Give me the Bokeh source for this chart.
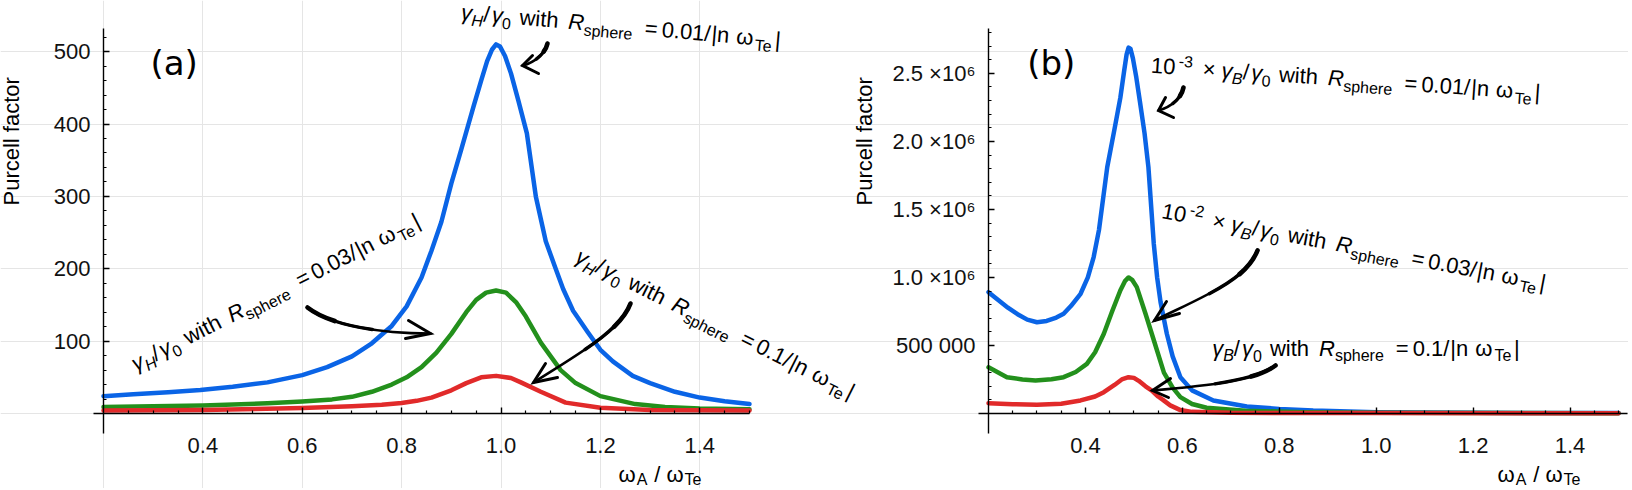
import math
from bokeh.plotting import figure
from bokeh.models import Range1d, FixedTicker, Label, LinearAxis
from bokeh.embed import file_html
from bokeh.resources import INLINE

# ---------------- data ----------------
# panel (a): gamma_H / gamma_0 (Purcell factor)
a_x_blue = [0.20, 0.26, 0.33, 0.395, 0.46, 0.53, 0.60, 0.65, 0.70, 0.74, 0.78, 0.81, 0.84, 0.86, 0.88,
            0.90, 0.92, 0.945, 0.96, 0.972, 0.982, 0.99, 0.998, 1.008, 1.02, 1.035, 1.052, 1.07, 1.09,
            1.11, 1.125, 1.145, 1.175, 1.20, 1.225, 1.265, 1.30, 1.35, 1.40, 1.45, 1.50]
a_y_blue = [24, 26.5, 29.5, 32.5, 37, 43, 53, 64, 79, 97, 121, 148, 188, 225, 265,
            318, 365, 425, 460, 487, 503, 510, 507, 494, 470, 432, 387, 300, 238,
            200, 172, 142, 112, 88, 72, 52, 42, 30, 22, 17, 13]
a_x_green = [0.20, 0.30, 0.40, 0.53, 0.60, 0.66, 0.70, 0.74, 0.78, 0.81, 0.84, 0.87, 0.90, 0.93, 0.95,
             0.97, 0.99, 1.01, 1.03, 1.05, 1.08, 1.12, 1.15, 1.20, 1.27, 1.33, 1.40, 1.50]
a_y_green = [9, 10, 11, 14, 16.5, 19.5, 23, 30, 40, 50, 64, 84, 110, 140, 157,
             167, 170, 167, 154, 134, 98, 60, 42, 24, 13, 9, 7, 6]
a_x_red = [0.20, 0.40, 0.60, 0.70, 0.76, 0.80, 0.83, 0.86, 0.90, 0.93, 0.96, 0.99, 1.02, 1.04, 1.08,
           1.13, 1.20, 1.30, 1.50]
a_y_red = [4, 5, 7.5, 10, 12, 14.5, 17.5, 22, 32, 42, 50, 52, 49, 43, 30,
           15, 8, 5, 4]

# panel (b): gamma_B / gamma_0 (scaled)
b_x_blue = [0.20, 0.22, 0.24, 0.26, 0.28, 0.30, 0.32, 0.34, 0.355, 0.37, 0.39, 0.405, 0.417, 0.428,
            0.445, 0.46, 0.472, 0.48, 0.485, 0.489, 0.493, 0.498, 0.505, 0.513, 0.522, 0.53, 0.541,
            0.548, 0.555, 0.568, 0.58, 0.596, 0.62, 0.664, 0.733, 0.80, 0.87, 1.00, 1.20, 1.50]
b_y_blue = [892e3, 835e3, 778e3, 730e3, 690e3, 671e3, 680e3, 705e3, 733e3, 790e3, 880e3, 1.0e6, 1.15e6, 1.35e6,
            1.81e6, 2.09e6, 2.32e6, 2.52e6, 2.64e6, 2.69e6, 2.68e6, 2.61e6, 2.47e6, 2.28e6, 2.06e6, 1.81e6, 1.25e6,
            1.0e6, 820e3, 586e3, 420e3, 267e3, 170e3, 96e3, 51e3, 34e3, 22e3, 10e3, 5e3, 3e3]
b_x_green = [0.20, 0.238, 0.27, 0.297, 0.33, 0.355, 0.38, 0.403, 0.42, 0.438, 0.455, 0.472, 0.482, 0.489,
             0.497, 0.506, 0.524, 0.541, 0.562, 0.58, 0.596, 0.62, 0.65, 0.73, 0.85, 1.00, 1.50]
b_y_green = [340e3, 267e3, 250e3, 243e3, 252e3, 267e3, 305e3, 365e3, 450e3, 586e3, 750e3, 904e3, 975e3, 1.0e6,
             980e3, 929e3, 733e3, 540e3, 300e3, 190e3, 120e3, 70e3, 42e3, 20e3, 10e3, 5e3, 2e3]
b_x_red = [0.20, 0.25, 0.30, 0.35, 0.39, 0.42, 0.438, 0.46, 0.475, 0.489, 0.50, 0.51, 0.524, 0.537, 0.55,
           0.56, 0.575, 0.596, 0.62, 0.70, 1.00, 1.50]
b_y_red = [76e3, 68e3, 64e3, 72e3, 96e3, 125e3, 157e3, 210e3, 250e3, 267e3, 262e3, 240e3, 200e3, 169e3, 125e3,
           100e3, 60e3, 25e3, 12e3, 5e3, 3e3, 2e3]

# ticks and tick labels
x_major = [0.4, 0.6, 0.8, 1.0, 1.2, 1.4]
x_labels = ["0.4", "0.6", "0.8", "1.0", "1.2", "1.4"]
x_minor = [0.25, 0.3, 0.35, 0.45, 0.5, 0.55, 0.65, 0.7, 0.75, 0.85, 0.9, 0.95, 1.05, 1.1, 1.15,
           1.25, 1.3, 1.35, 1.45, 1.5]
a_y_major = [100, 200, 300, 400, 500]
a_y_labels = ["100", "200", "300", "400", "500"]
a_y_minor = [20, 40, 60, 80, 120, 140, 160, 180, 220, 240, 260, 280, 320, 340, 360, 380,
             420, 440, 460, 480, 520]
b_y_major = [500000, 1000000, 1500000, 2000000, 2500000]
b_y_labels = ["500 000", "1.0 ×10⁶", "1.5 ×10⁶", "2.0 ×10⁶", "2.5 ×10⁶"]
b_y_minor = [100000, 200000, 300000, 400000, 600000, 700000, 800000, 900000, 1100000, 1200000, 1300000,
             1400000, 1600000, 1700000, 1800000, 1900000, 2100000, 2200000, 2300000, 2400000, 2600000,
             2700000, 2800000]

BLUE, GREEN, RED = "#0a64e6", "#23901c", "#e12a2a"
FONT = "Liberation Sans"
MAIN, SUB = 22, 16
W, H = 1628, 488
# empirical correction (fraction of font size) so that the anchor lands on the alphabetic baseline
BASE_FIX = {"Liberation Sans": 0.39, "DejaVu Sans": 0.38}

# ---------------- helpers ----------------
WID = {' ': 0.278, '(': 0.333, ')': 0.333, '-': 0.333, '.': 0.278, '/': 0.278, '=': 0.584, '|': 0.26,
       '×': 0.584, 'A': 0.667, 'B': 0.667, 'H': 0.722, 'R': 0.722, 'T': 0.611, 'a': 0.556, 'e': 0.556,
       'h': 0.556, 'i': 0.222, 'n': 0.556, 'p': 0.556, 'r': 0.333, 's': 0.5, 't': 0.278, 'w': 0.722,
       'γ': 0.5, 'ω': 0.78}


def tw(s, size):
    return size * sum(WID.get(c, 0.556) for c in s)


def sub_bezier(P, t):
    (p0, p1, p2, p3) = P

    def lerp(u, v, s):
        return (u[0] + (v[0] - u[0]) * s, u[1] + (v[1] - u[1]) * s)
    a1 = lerp(p0, p1, t)
    b1 = lerp(p1, p2, t)
    c1 = lerp(p2, p3, t)
    a2 = lerp(a1, b1, t)
    b2 = lerp(b1, c1, t)
    a3 = lerp(a2, b2, t)
    return (p0, a1, a2, a3)


def style_axis(ax, labels_standoff):
    ax.axis_line_color = "black"
    ax.axis_line_width = 1.4
    ax.major_tick_in = 6
    ax.major_tick_out = 0
    ax.minor_tick_in = 3
    ax.minor_tick_out = 0
    ax.major_tick_line_width = 1.4
    ax.minor_tick_line_width = 1.2
    ax.major_tick_line_color = "black"
    ax.minor_tick_line_color = "black"
    ax.major_label_text_font = FONT
    ax.major_label_text_font_size = "22px"
    ax.major_label_text_color = "#111111"
    ax.major_label_standoff = labels_standoff


class Panel:
    def __init__(self, p, tod, kw):
        self.p, self.tod, self.kw = p, tod, kw

    def put(self, X, Y, d, up, a, text, size, font=FONT, italic=False):
        ca, sa = math.cos(a), math.sin(a)
        up = up + BASE_FIX[font] * size
        self.p.add_layout(Label(x=X, y=Y, x_offset=d * ca - up * sa, y_offset=d * sa + up * ca,
                                text=text, angle=a, text_font=font, text_font_size=f"{size}px",
                                text_font_style="italic" if italic else "normal", text_color="black",
                                text_align="left", text_baseline="alphabetic", **self.kw))

    def text_at(self, sx, sy, deg, text, size, font=FONT):
        X, Y = self.tod(sx, sy)
        self.put(X, Y, 0, 0, math.radians(deg), text, size, font)

    def rich(self, sx, sy, deg, segs, sub_shift=5):
        X, Y = self.tod(sx, sy)
        a = math.radians(deg)
        d = 0.0
        for text, kind, ital, gap in segs:
            d += gap
            size = MAIN if kind == "n" else SUB
            up = {"n": 0, "sub": -sub_shift, "sup": 9}[kind]
            self.put(X, Y, d, up, a, text, size, FONT, ital)
            d += tw(text, size)

    def arrow(self, pts, head):
        for t, lw in ((1.0, 2.6), (0.6, 3.4), (0.3, 4.6)):
            q = sub_bezier(pts, t)
            (x0, y0), (c0x, c0y), (c1x, c1y), (x1, y1) = [self.tod(*v) for v in q]
            self.p.bezier(x0=[x0], y0=[y0], x1=[x1], y1=[y1], cx0=[c0x], cy0=[c0y], cx1=[c1x], cy1=[c1y],
                          line_color="black", line_width=lw, line_cap="round", **self.kw)
        w1, tip, w2 = [self.tod(*q) for q in head]
        self.p.line([w1[0], tip[0], w2[0]], [w1[1], tip[1], w2[1]], line_color="black", line_width=3,
                    line_join="miter", line_cap="round", **self.kw)

    def curves(self, series):
        for xs, ys, c in series:
            self.p.line(xs, ys, line_color=c, line_width=4.5, line_join="round", line_cap="round", **self.kw)

    def axes(self, x_start_px, x_end_px, y_top, y_major, y_minor, y_labels):
        xax = LinearAxis(fixed_location=0, ticker=FixedTicker(ticks=x_major, minor_ticks=x_minor),
                         bounds=(self.tod(x_start_px, 0)[0], self.tod(x_end_px, 0)[0]), **self.kw)
        xax.major_label_overrides = {v: s for v, s in zip(x_major, x_labels)}
        style_axis(xax, 24)
        yax = LinearAxis(fixed_location=0.2, ticker=FixedTicker(ticks=y_major, minor_ticks=y_minor),
                         bounds=(self.tod(0, 433)[1], y_top), **self.kw)
        yax.major_label_overrides = {v: s for v, s in zip(y_major, y_labels)}
        style_axis(yax, 13)
        self.p.add_layout(xax, "below")
        self.p.add_layout(yax, "left")


def gamma_segs(letter, val, power=None):
    segs = []
    g0 = 0
    if power:
        segs += [("10", "n", False, 0), (power, "sup", False, 3), ("×", "n", False, 10)]
        g0 = 6
    segs += [("γ", "n", True, g0), (letter, "sub", True, 0), ("/", "n", False, 0), ("γ", "n", True, 2),
             ("0", "sub", False, 0), ("with", "n", False, 8), ("R", "n", True, 10),
             ("sphere", "sub", False, 0), ("=", "n", False, 12), (val + "/", "n", False, 4),
             ("|n", "n", False, 1), ("ω", "n", False, 7), ("Te", "sub", False, 2), ("|", "n", False, 1)]
    return segs


AXIS_LABEL = [("ω", "n", False, 0), ("A", "sub", False, 1), ("/", "n", False, 7),
              ("ω", "n", False, 6), ("Te", "sub", False, 1)]


# pixel -> data maps of the two panels (one canvas, two coordinate systems)
def tod_a(px, py):
    return 0.2 + (px - 103) * 1.3 / 646, (413 - py) * 532 / 385


def tod_b(px, py):
    return 0.2 + (px - 988) * 1.3 / 630, (413 - py) * 2.83e6 / 385


xa0, ya1 = tod_a(0, 0)
xa1, ya0 = tod_a(W, H)
xb0, yb1 = tod_b(0, 0)
xb1, yb0 = tod_b(W, H)

p = figure(width=W, height=H, x_range=Range1d(xa0, xa1), y_range=Range1d(ya0, ya1),
           min_border=0, min_border_left=0, min_border_right=0, min_border_top=0, min_border_bottom=0,
           x_axis_location=None, y_axis_location=None, output_backend="svg", toolbar_location=None)
p.extra_x_ranges = {"bx": Range1d(xb0, xb1)}
p.extra_y_ranges = {"by": Range1d(yb0, yb1)}
p.outline_line_color = None
p.background_fill_color = "white"
p.border_fill_color = "white"

A = Panel(p, tod_a, {})
B = Panel(p, tod_b, {"x_range_name": "bx", "y_range_name": "by"})

# ---------------- panel (a) ----------------
A.curves(((a_x_blue, a_y_blue, BLUE), (a_x_green, a_y_green, GREEN), (a_x_red, a_y_red, RED)))
A.axes(93, 749, 532, a_y_major, a_y_minor, a_y_labels)
A.rich(460, 20, -5, gamma_segs("H", "0.01"))
A.rich(136, 372, 27, gamma_segs("H", "0.03"))
A.rich(573, 262, -26.5, gamma_segs("H", "0.1"))
A.arrow([(547, 43), (545, 52), (535, 62), (522, 65)], [(532, 55), (522, 65), (538, 73)])
A.arrow([(307, 307), (330, 325), (380, 333), (430, 333)], [(408, 320), (430, 333), (405, 338)])
A.arrow([(630, 303), (620, 330), (580, 352), (533, 382)], [(545, 363), (533, 382), (557, 377)])
A.text_at(150, 75.6, 0, "(a)", 34, "DejaVu Sans")
A.text_at(20, 205, 90, "Purcell factor", 22)
A.rich(618, 482.5, 0, AXIS_LABEL, sub_shift=3)

# ---------------- panel (b) ----------------
B.curves(((b_x_blue, b_y_blue, BLUE), (b_x_green, b_y_green, GREEN), (b_x_red, b_y_red, RED)))
B.axes(978, 1627, 2.83e6, b_y_major, b_y_minor, b_y_labels)
B.rich(1150, 73.3, -4, gamma_segs("B", "0.01", "-3"))
B.rich(1160, 218.5, -10.7, gamma_segs("B", "0.03", "-2"))
B.rich(1211.7, 356.7, 0, gamma_segs("B", "0.1"))
B.arrow([(1183, 87), (1181, 97), (1172, 106), (1158, 110)], [(1165, 97), (1158, 110), (1173, 117)])
B.arrow([(1257, 250), (1245, 280), (1205, 295), (1154, 320)], [(1166, 301), (1154, 320), (1179, 313)])
B.arrow([(1275, 365), (1255, 380), (1210, 385), (1152, 390)], [(1170, 378), (1152, 390), (1168, 397)])
B.text_at(1026.7, 75.6, 0, "(b)", 34, "DejaVu Sans")
B.text_at(873, 205, 90, "Purcell factor", 22)
B.rich(1497, 482.5, 0, AXIS_LABEL, sub_shift=3)

open("out.html", "w").write(file_html(p, INLINE))
